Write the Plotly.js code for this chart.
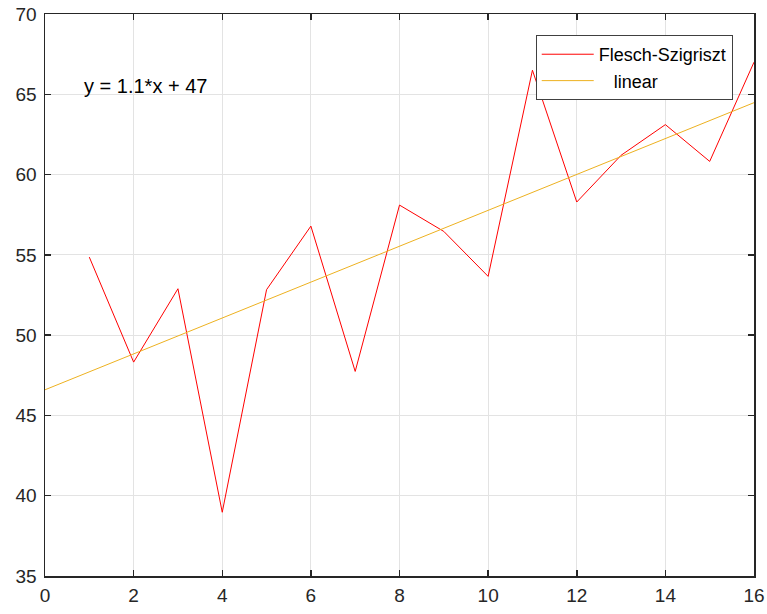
<!DOCTYPE html>
<html>
<head>
<meta charset="utf-8">
<script src="https://cdn.plot.ly/plotly-3.0.1.min.js"></script>
<style>
  html, body { margin: 0; padding: 0; background: #fff; }
  #chart { width: 767px; height: 614px; }
</style>
</head>
<body>
<div id="chart"></div>
<script>
// Data
const xValues = [1, 2, 3, 4, 5, 6, 7, 8, 9, 10, 11, 12, 13, 14, 15, 16];
const fleschValues = [54.86, 48.32, 52.89, 38.97, 52.83, 56.79, 47.74, 58.1, 56.46, 53.66, 66.5, 58.29, 61.2, 63.11, 60.82, 67.0];
const seriesNames = ["Flesch-Szigriszt", "\u00a0\u00a0\u00a0linear"];
const fitLabel = "y = 1.1*x + 47";
const fitRange = [0, 16];

// least-squares linear fit computed from the data
const n = xValues.length;
const mx = xValues.reduce((a, b) => a + b, 0) / n;
const my = fleschValues.reduce((a, b) => a + b, 0) / n;
let sxy = 0, sxx = 0;
for (let i = 0; i < n; i++) {
  sxy += (xValues[i] - mx) * (fleschValues[i] - my);
  sxx += (xValues[i] - mx) * (xValues[i] - mx);
}
const slope = sxy / sxx;
const intercept = my - slope * mx;
const fitY = fitRange.map(x => intercept + slope * x);

const font = "Arial, 'Liberation Sans', Helvetica, sans-serif";
const dark = "#262626";

const traces = [
  {
    x: xValues, y: fleschValues, type: "scatter", mode: "lines",
    name: seriesNames[0], line: { color: "#ff0000", width: 1 }
  },
  {
    x: fitRange, y: fitY, type: "scatter", mode: "lines",
    name: seriesNames[1], line: { color: "#edb120", width: 1 }
  }
];

const axisCommon = {
  showline: true, linecolor: dark, linewidth: 1.5, mirror: "ticks",
  ticks: "inside", ticklen: 6, tickwidth: 1.5, tickcolor: dark,
  showgrid: true, gridcolor: "#e3e3e3", gridwidth: 1,
  zeroline: false,
  tickfont: { family: font, size: 19, color: dark }
};

const layout = {
  width: 767, height: 614,
  margin: { l: 45, r: 13, t: 14, b: 38 },
  paper_bgcolor: "#ffffff", plot_bgcolor: "#ffffff",
  showlegend: true,
  legend: {
    x: 0.970, xanchor: "right", y: 0.9626, yanchor: "top",
    bgcolor: "#ffffff", bordercolor: "#404040", borderwidth: 1,
    font: { family: font, size: 18, color: "#000000" },
    itemwidth: 52, tracegroupgap: 0
  },
  xaxis: Object.assign({}, axisCommon, { range: [0, 16], dtick: 2, tick0: 0, ticklabelstandoff: 2 }),
  yaxis: Object.assign({}, axisCommon, { range: [35, 70], dtick: 5, tick0: 35, ticklabelstandoff: 3 }),
  annotations: [{
    x: 0.83, y: 65.5, xref: "x", yref: "y", xanchor: "left", yanchor: "middle",
    text: fitLabel, showarrow: false,
    font: { family: font, size: 20, color: "#000000" }
  }]
};

Plotly.newPlot("chart", traces, layout, { displayModeBar: false, staticPlot: true });
</script>
</body>
</html>
